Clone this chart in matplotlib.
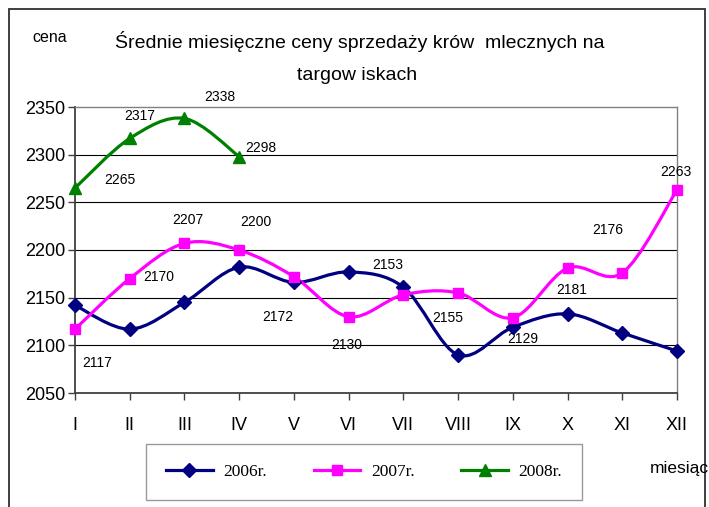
import numpy as np
import matplotlib.pyplot as plt
from matplotlib.path import Path
from matplotlib.patches import PathPatch, Rectangle
from matplotlib.lines import Line2D

plt.rcParams['font.family'] = ['Liberation Sans', 'DejaVu Sans']

# dane
months = ['I', 'II', 'III', 'IV', 'V', 'VI', 'VII', 'VIII', 'IX', 'X', 'XI', 'XII']
y2006 = [2142, 2117, 2145, 2182, 2166, 2177, 2161, 2090, 2119, 2133, 2113, 2094]
y2007 = [2117, 2170, 2207, 2200, 2172, 2130, 2153, 2155, 2129, 2181, 2176, 2263]
y2008 = [2265, 2317, 2338, 2298]

# przesuniecia etykiet (piksele)
off2007 = [(22, -34), (29, 2), (3, 23), (17, 28), (-16, -40), (-2, -28),
           (-16, 30), (-10, -25), (10, -21), (4, -22), (-15, 43), (-1, 18)]
off2008 = [(45, 8), (10, 22), (35, 21), (22, 9)]


def smooth_path(xs, ys):
    # krzywa Beziera jak "wygladzona linia" w Excelu
    pts = np.column_stack([xs, ys]).astype(float)
    n = len(pts)
    verts = [pts[0]]
    codes = [Path.MOVETO]
    for i in range(n - 1):
        p0 = pts[i - 1] if i > 0 else pts[i]
        p1 = pts[i]
        p2 = pts[i + 1]
        p3 = pts[i + 2] if i + 2 < n else pts[i + 1]
        c1 = p1 + (p2 - p0) / 6
        c2 = p2 - (p3 - p1) / 6
        verts += [c1, c2, p2]
        codes += [Path.CURVE4] * 3
    return Path(verts, codes)


fig = plt.figure(figsize=(7.09, 5.07), dpi=100)
ax = fig.add_axes([75 / 709, 1 - 393 / 507, 602 / 709, 286 / 507])

series = [('2006r.', y2006, '#000080', 'D', 7),
          ('2007r.', y2007, '#FF00FF', 's', 7),
          ('2008r.', y2008, '#008000', '^', 8)]

handles = []
for name, vals, col, mk, ms in series:
    xs = np.arange(len(vals))
    ax.add_patch(PathPatch(smooth_path(xs, vals), fill=False, edgecolor=col,
                           lw=2.3, zorder=3, clip_on=False))
    ax.plot(xs, vals, linestyle='none', marker=mk, color=col, ms=ms, zorder=4,
            clip_on=False)
    handles.append(Line2D([], [], color=col, lw=2.3, marker=mk, ms=ms))

for i, v in enumerate(y2007):
    ax.annotate(str(v), (i, v), xytext=off2007[i], textcoords='offset pixels',
                ha='center', va='center', fontsize=10)
for i, v in enumerate(y2008):
    ax.annotate(str(v), (i, v), xytext=off2008[i], textcoords='offset pixels',
                ha='center', va='center', fontsize=10)

ax.set_xlim(0, 11)
ax.set_ylim(2050, 2350)
ax.set_yticks(range(2050, 2351, 50))
ax.set_xticks(range(12))
ax.set_xticklabels(months)
ax.tick_params(axis='y', length=5, width=1, color='#404040', labelsize=13, pad=2)
ax.tick_params(axis='x', length=5, width=1, color='#404040', labelsize=13, pad=12)
for v in range(2100, 2301, 50):
    ax.axhline(v, color='black', lw=0.8, zorder=1)
for s in ['top', 'right']:
    ax.spines[s].set_color('#808080')
    ax.spines[s].set_linewidth(1)
for s in ['left', 'bottom']:
    ax.spines[s].set_color('#404040')
    ax.spines[s].set_linewidth(1.3)

fig.text(360 / 709, 1 - 42 / 507, 'Średnie miesięczne ceny sprzedaży krów  mlecznych na',
         ha='center', va='center', fontsize=14)
fig.text(357 / 709, 1 - 75 / 507, 'targow iskach', ha='center', va='center', fontsize=14)
fig.text(50 / 709, 1 - 38 / 507, 'cena', ha='center', va='center', fontsize=11.5)
fig.text(650 / 709, 1 - 468 / 507, 'miesiąc', ha='left', va='center', fontsize=12.5)

leg = fig.legend(handles, ['2006r.', '2007r.', '2008r.'], ncol=3, loc='center',
                 bbox_to_anchor=(364 / 709, 1 - 472 / 507), frameon=True,
                 fancybox=False, edgecolor='#808080', handlelength=2.7,
                 columnspacing=2.7, borderpad=1.15, handletextpad=0.6,
                 prop={'family': 'Liberation Serif', 'size': 12.5})
leg.get_frame().set_linewidth(1)

fig.patches.append(Rectangle((9 / 709, -0.05), 696 / 709, 1.05 - 9 / 507,
                             transform=fig.transFigure, fill=False,
                             edgecolor='#303030', lw=1.3))

fig.savefig('out.png', dpi=100)
